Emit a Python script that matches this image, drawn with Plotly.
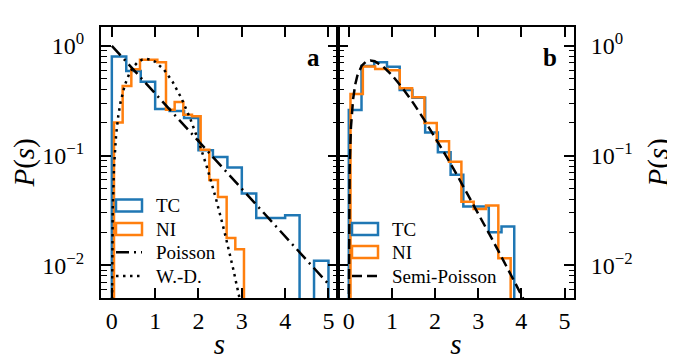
import plotly.graph_objects as go

# level-spacing histograms
# panel a
tc_a_edges = [0, 0.333, 0.667, 1.0, 1.333, 1.667, 2.0, 2.333, 2.667, 3.0, 3.333, 3.667, 4.0, 4.333, 4.667, 5.0]
tc_a = [0.80, 0.59, 0.47, 0.265, 0.255, 0.22, 0.112, 0.097, 0.078, 0.045, 0.027, 0.027, 0.0285, 0, 0.011]
ni_a_edges = [0.05, 0.25, 0.45, 0.65, 0.85, 1.05, 1.25, 1.45, 1.65, 1.85, 2.05, 2.25, 2.45, 2.65, 2.85, 3.05]
ni_a = [0.2, 0.43, 0.61, 0.745, 0.745, 0.71, 0.262, 0.307, 0.235, 0.228, 0.113, 0.06, 0.042, 0.0177, 0.014]

# panel b
tc_b_edges = [0, 0.295, 0.59, 0.885, 1.18, 1.475, 1.77, 2.065, 2.36, 2.655, 2.95, 3.245, 3.54, 3.835]
tc_b = [0.26, 0.656, 0.71, 0.645, 0.395, 0.337, 0.162, 0.107, 0.067, 0.0344, 0.0344, 0.020, 0.0226]
ni_b_edges = [0.04, 0.326, 0.611, 0.897, 1.182, 1.468, 1.753, 2.039, 2.324, 2.61, 2.895, 3.181, 3.466, 3.752]
ni_b = [0.364, 0.647, 0.616, 0.60, 0.41, 0.34, 0.198, 0.135, 0.088, 0.038, 0.0325, 0.035, 0.0116]

# reference curves
poisson_s = [0, 1, 2, 3, 4, 5]
poisson_p = [1.0, 0.368, 0.135, 0.0498, 0.0183, 0.00674]

wd_s = [0.002, 0.005, 0.01, 0.02, 0.05, 0.1, 0.15, 0.2, 0.3, 0.4, 0.5, 0.6, 0.7, 0.8, 0.9, 1.0,
        1.2, 1.4, 1.6, 1.8, 2.0, 2.2, 2.4, 2.6, 2.8, 3.0]
wd_p = [0.00314, 0.00785, 0.0157, 0.0314, 0.0784, 0.156, 0.2315, 0.3044, 0.4391, 0.5541, 0.6455,
        0.7103, 0.7484, 0.7601, 0.7483, 0.7161, 0.6083, 0.4717, 0.3365, 0.2219, 0.1357, 0.0772,
        0.0409, 0.0202, 0.00931, 0.00401]

sp_s = [0.001, 0.002, 0.005, 0.01, 0.02, 0.05, 0.1, 0.15, 0.2, 0.3, 0.4, 0.5, 0.6, 0.8, 1.0, 1.25,
        1.5, 1.75, 2.0, 2.25, 2.5, 2.75, 3.0, 3.25, 3.5, 3.75, 4.0, 4.1]
sp_p = [0.00399, 0.00797, 0.0198, 0.0392, 0.0769, 0.181, 0.3275, 0.4445, 0.5363, 0.6586, 0.7189,
        0.7358, 0.7229, 0.646, 0.5413, 0.4104, 0.2987, 0.2114, 0.1465, 0.1, 0.0674, 0.045, 0.0297,
        0.0195, 0.01277, 0.0083, 0.00537, 0.00451]

BLUE = '#1f77b4'
ORANGE = '#ff7f0e'
FONT = '"Liberation Serif", "DejaVu Serif", serif'
FLOOR = 1e-4  # empty bins / outline baseline, below the visible range
DASHDOT = '13px,5px,2px,5px'
DOTTED = '2.5px,4.5px'
DASHED = '10px,5px'

# page body has an 8px margin, so the figure is 8px smaller than the window
W, H = 667, 352


def step_xy(edges, vals):
    # outline of a matplotlib 'step' histogram
    xs = [edges[0]] + list(edges[:-1]) + [edges[-1]]
    ys = [FLOOR] + [v if v > 0 else FLOOR for v in vals] + [FLOOR]
    return xs, ys


fig = go.Figure()

for xa, ya, te, tv, ne, nv in [('x', 'y', tc_a_edges, tc_a, ni_a_edges, ni_a),
                               ('x2', 'y2', tc_b_edges, tc_b, ni_b_edges, ni_b)]:
    for col, e, v in [(BLUE, te, tv), (ORANGE, ne, nv)]:
        xs, ys = step_xy(e, v)
        fig.add_trace(go.Scatter(x=xs, y=ys, mode='lines', line=dict(color=col, width=2.5, shape='hv'),
                                 xaxis=xa, yaxis=ya, showlegend=False, hoverinfo='skip'))

fig.add_trace(go.Scatter(x=poisson_s, y=poisson_p, mode='lines', showlegend=False,
                         line=dict(color='black', width=2.5, dash=DASHDOT), xaxis='x', yaxis='y'))
fig.add_trace(go.Scatter(x=wd_s, y=wd_p, mode='lines', showlegend=False,
                         line=dict(color='black', width=2.5, dash=DOTTED), xaxis='x', yaxis='y'))
fig.add_trace(go.Scatter(x=sp_s, y=sp_p, mode='lines', showlegend=False,
                         line=dict(color='black', width=2.5, dash=DASHED), xaxis='x2', yaxis='y2'))

minor_vals = [m * 10 ** k for k in (-3, -2, -1, 0) for m in range(2, 10)]
xcommon = dict(range=[-0.25, 5.22], tickvals=[0, 1, 2, 3, 4, 5], ticks='inside', ticklen=10, tickwidth=1.6,
               tickcolor='black', showline=True, linecolor='black', linewidth=2, mirror='allticks',
               showgrid=False, zeroline=False, ticklabelstandoff=0, automargin=False,
               tickfont=dict(family=FONT, size=24, color='black'),
               title=dict(text='<i>s</i>', font=dict(family=FONT, size=29, color='black'), standoff=19))
ycommon = dict(type='log', range=[-2.301, 0.176], tickvals=[1, 0.1, 0.01],
               ticktext=['10<sup>0</sup>', '10<sup>−1</sup>', '10<sup>−2</sup>'],
               ticks='inside', ticklen=10, tickwidth=1.6, tickcolor='black', ticklabelstandoff=10,
               minor=dict(tickvals=minor_vals, ticks='inside', ticklen=5.5, tickwidth=1.2, tickcolor='black'),
               showline=True, linecolor='black', linewidth=2, mirror='allticks', showgrid=False,
               automargin=False,
               tickfont=dict(family=FONT, size=24, color='black'), domain=[1 - 290.3 / H, 1 - 18.5 / H],
               title=dict(text='<i>P</i>(<i>s</i>)', font=dict(family=FONT, size=29, color='black'), standoff=20))

# hand-made legends (open boxes for the histograms, like matplotlib patches)
legend_rows = [
    # (label, kind, colour/dash, x0, y-centre) in figure pixels
    ('TC', 'box', BLUE, 108, 197.5),
    ('NI', 'box', ORANGE, 108, 221),
    ('Poisson', 'line', DASHDOT, 108, 244.3),
    ('W.-D.', 'line', DOTTED, 108, 268),
    ('TC', 'box', BLUE, 344, 221),
    ('NI', 'box', ORANGE, 344, 244),
    ('Semi-Poisson', 'line', DASHED, 344, 268),
]
shapes, annotations = [], []
for label, kind, style, x0, yc in legend_rows:
    if kind == 'box':
        shapes.append(dict(type='rect', xref='paper', yref='paper', x0=x0 / W, x1=(x0 + 26) / W,
                           y0=1 - (yc - 6) / H, y1=1 - (yc + 6) / H, line=dict(color=style, width=2.5)))
    else:
        shapes.append(dict(type='line', xref='paper', yref='paper', x0=x0 / W, x1=(x0 + 26) / W,
                           y0=1 - yc / H, y1=1 - yc / H, line=dict(color='black', width=2.5, dash=style)))
    annotations.append(dict(text=label, xref='paper', yref='paper', x=(x0 + 38) / W, y=1 - yc / H,
                            xanchor='left', yanchor='middle', showarrow=False,
                            font=dict(family=FONT, size=19, color='black')))

for ax, lab in [('x', 'a'), ('x2', 'b')]:
    annotations.append(dict(text='<b>%s</b>' % lab, xref=ax + ' domain', yref='y domain', x=0.897, y=0.886,
                            xanchor='center', yanchor='middle', showarrow=False,
                            font=dict(family=FONT, size=25, color='black')))

fig.update_layout(
    width=W, height=H,
    margin=dict(l=0, r=0, t=0, b=0),
    paper_bgcolor='white', plot_bgcolor='white',
    showlegend=False,
    xaxis=dict(domain=[93 / W, 330 / W], anchor='y', **xcommon),
    xaxis2=dict(domain=[330 / W, 566 / W], anchor='y2', **xcommon),
    yaxis=dict(anchor='x', side='left', **ycommon),
    yaxis2=dict(anchor='x2', side='right', **ycommon),
    shapes=shapes,
    annotations=annotations,
)

fig.write_html("out.html")
